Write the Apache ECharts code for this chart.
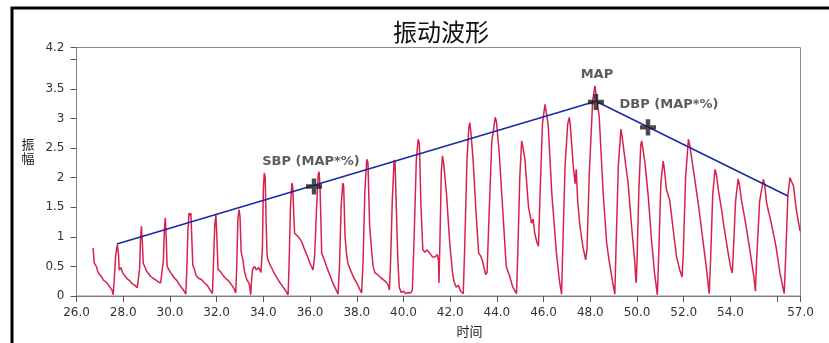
<!DOCTYPE html>
<html>
<head>
<meta charset="utf-8">
<script src="https://cdn.jsdelivr.net/npm/echarts@6/dist/echarts.min.js"></script>
<style>
html,body{margin:0;padding:0;background:#fff;}
#c{width:829px;height:343px;}
</style>
</head>
<body>
<div id="c"></div>
<script>
// ---- data ----
const titleText = '振动波形';
const xName = '时间';
const yName = '振幅';
const xTickValues = [26,28,30,32,34,36,38,40,42,44,46,48,50,52,54,56,57];
const xLabelValues = [26,28,30,32,34,36,38,40,42,44,46,48,50,52,54,57];
const yTickValues = [0,0.5,1,1.5,2,2.5,3,3.5,4,4.2];
const yLabelValues = [0,0.5,1,1.5,2,2.5,3,3.5,4.2];

// oscillometric waveform: time (x) and amplitude (y)
const waveT = [
26.71,26.76,26.85,26.92,27.00,27.08,27.15,27.22,27.30,27.38,27.45,27.52,27.57,27.62,27.68,27.75,
27.80,27.83,27.90,27.97,28.05,28.12,28.20,28.30,28.40,28.50,28.60,28.66,28.70,28.74,28.78,
28.82,28.86,28.92,29.00,29.08,29.18,29.28,29.40,29.50,29.60,29.68,29.72,29.76,29.80,
29.84,29.88,29.95,30.02,30.10,30.20,30.30,30.42,30.55,30.68,30.72,30.77,30.82,30.87,30.90,
30.94,30.98,31.05,31.12,31.22,31.35,31.48,31.60,31.72,31.82,31.86,31.92,31.97,
32.01,32.06,32.15,32.25,32.38,32.50,32.62,32.75,32.82,32.86,32.91,32.96,
33.00,33.05,33.12,33.20,33.28,33.40,33.46,33.50,33.54,33.62,33.70,33.80,33.90,33.96,34.00,34.04,
34.08,34.12,34.16,34.20,34.30,34.40,34.50,34.62,34.72,34.85,34.97,35.06,35.10,35.16,35.22,
35.26,35.30,35.34,35.42,35.50,35.64,35.75,35.88,36.00,36.13,36.20,36.28,36.35,36.39,
36.43,36.50,36.62,36.75,36.88,37.00,37.12,37.20,37.26,37.33,37.40,
37.44,37.50,37.56,37.62,37.75,37.88,38.00,38.12,38.21,38.27,38.35,38.43,
38.48,38.55,38.62,38.70,38.78,38.90,39.00,39.12,39.25,39.35,39.40,39.45,39.52,39.60,
39.64,39.70,39.76,39.82,39.90,40.00,40.10,40.20,40.30,40.38,40.45,40.55,40.63,
40.68,40.75,40.83,40.92,41.00,41.13,41.25,41.35,41.45,41.50,41.52,41.56,41.62,41.67,
41.72,41.84,41.98,42.10,42.15,42.25,42.35,42.45,42.56,42.62,42.72,42.80,42.84,
42.88,42.98,43.10,43.22,43.30,43.38,43.52,43.58,43.65,43.78,43.93,
43.98,44.10,44.25,44.40,44.55,44.68,44.84,44.90,44.98,45.06,
45.10,45.20,45.35,45.48,45.55,45.62,45.72,45.78,45.84,45.95,46.06,
46.12,46.20,46.35,46.55,46.68,46.77,46.82,46.92,47.03,47.10,
47.14,47.27,47.35,47.40,47.46,47.55,47.68,47.80,47.86,47.95,48.10,48.20,
48.25,48.38,48.55,48.70,48.80,48.95,49.05,49.10,49.20,49.31,
49.36,49.52,49.62,49.70,49.78,49.90,49.95,49.97,50.00,50.08,50.16,50.20,
50.25,50.34,50.48,50.62,50.75,50.87,50.93,51.02,51.12,
51.17,51.26,51.40,51.47,51.55,51.69,51.83,51.93,51.98,52.08,52.20,
52.26,52.41,52.62,52.82,52.98,53.09,53.15,53.24,53.34,
53.40,53.48,53.62,53.72,53.88,54.00,54.08,54.12,54.22,54.33,
54.38,54.47,54.65,54.83,55.00,55.07,55.12,55.25,55.41,
55.46,55.55,55.75,55.95,56.12,56.30,56.36,56.46,56.55,
56.60,56.70,56.82,56.98
];
const waveAmp = [
0.81,0.56,0.50,0.40,0.36,0.32,0.27,0.24,0.22,0.18,0.16,0.10,0.02,0.30,0.70,0.87,
0.70,0.44,0.48,0.40,0.35,0.38,0.28,0.25,0.20,0.18,0.14,0.15,0.45,0.95,1.18,
0.90,0.55,0.50,0.42,0.38,0.33,0.30,0.27,0.24,0.22,0.25,0.60,1.10,1.32,
1.00,0.50,0.52,0.40,0.42,0.30,0.26,0.18,0.12,0.03,0.40,1.10,1.40,1.36,1.40,
0.95,0.52,0.45,0.35,0.30,0.28,0.22,0.18,0.10,0.04,0.50,1.20,1.37,
1.00,0.45,0.42,0.36,0.30,0.26,0.20,0.12,0.05,0.50,1.30,1.46,
1.35,0.75,0.62,0.40,0.29,0.20,0.02,0.30,0.45,0.50,0.44,0.48,0.40,0.80,1.80,2.08,
2.00,1.23,0.70,0.61,0.52,0.44,0.36,0.28,0.22,0.15,0.08,0.02,0.50,1.50,1.91,
1.85,1.40,1.06,1.06,1.00,0.92,0.80,0.68,0.55,0.44,0.70,1.50,2.05,2.10,
1.80,0.72,0.60,0.45,0.32,0.20,0.10,0.03,0.50,1.50,1.91,
1.85,1.00,0.72,0.55,0.42,0.30,0.22,0.12,0.05,0.60,1.80,2.31,
2.25,1.20,0.84,0.50,0.39,0.36,0.32,0.28,0.24,0.18,0.10,0.60,1.60,2.30,
2.26,1.40,0.60,0.15,0.06,0.08,0.04,0.06,0.05,0.10,0.90,2.30,2.65,
2.58,1.52,0.78,0.74,0.78,0.72,0.66,0.66,0.70,0.60,0.22,0.90,2.10,2.37,
2.25,1.74,0.90,0.40,0.27,0.15,0.18,0.08,0.04,0.80,2.30,2.85,2.93,
2.80,2.31,1.46,0.72,0.68,0.60,0.36,0.40,1.20,2.60,3.02,
2.95,2.42,1.46,0.50,0.33,0.15,0.04,0.80,2.00,2.62,
2.55,2.31,1.52,1.23,1.30,1.06,0.90,0.84,1.60,2.90,3.24,
3.10,2.87,1.74,0.72,0.25,0.03,0.80,2.20,2.90,3.02,
2.90,2.20,1.90,2.14,1.60,1.20,0.84,0.61,0.80,2.00,3.30,3.55,
3.40,3.04,1.74,0.90,0.61,0.25,0.03,0.80,2.20,2.82,
2.70,2.20,1.91,1.50,1.12,0.60,0.27,0.22,0.60,1.80,2.55,2.62,
2.50,2.25,1.69,0.95,0.39,0.02,0.70,1.90,2.28,
2.15,1.80,1.62,1.63,1.12,0.67,0.44,0.32,0.70,2.00,2.65,
2.55,2.14,1.57,0.95,0.44,0.04,0.60,1.70,2.14,
2.05,1.80,1.46,1.18,0.78,0.50,0.39,0.70,1.60,1.98,
1.90,1.63,1.23,0.78,0.33,0.08,0.60,1.60,1.97,
1.90,1.57,1.23,0.84,0.39,0.04,0.60,1.70,2.00,
1.95,1.86,1.46,1.10
];

// envelope line
const envT = [27.73, 48.24, 56.46];
const envAmp = [0.88, 3.29, 1.69];

// marked points
const markNames = ['SBP (MAP*%)', 'MAP', 'DBP (MAP*%)'];
const markT = [36.17, 48.24, 50.47];
const markAmp = [1.85, 3.28, 2.85];

// ---- chart ----
const chart = echarts.init(document.getElementById('c'), null, {renderer: 'canvas'});
const waveData = waveT.map((t, i) => [t, waveAmp[i]]);
const envData = envT.map((t, i) => [t, envAmp[i]]);
const labelOffsets = [[-3, -25], [1, -27], [21, -23]];
const markData = markT.map((t, i) => ({
  value: [t, markAmp[i]],
  name: markNames[i],
  label: {offset: labelOffsets[i]}
}));
const plusPath = 'path://M3.6,0H6.4V3.6H10V6.4H6.4V10H3.6V6.4H0V3.6H3.6Z';

chart.setOption({
  animation: false,
  backgroundColor: '#ffffff',
  title: {
    text: titleText,
    left: 436, textAlign: 'center',
    top: 15,
    textStyle: {fontFamily: 'Noto Sans CJK SC', fontSize: 24, fontWeight: 'normal', color: '#111'}
  },
  graphic: [{
    type: 'polyline',
    shape: {points: [[12, 343], [12, 8], [829, 8]]},
    style: {stroke: '#000', lineWidth: 3, fill: null},
    silent: true
  }],
  grid: {
    left: 76.5, right: 28.5, top: 47.5, bottom: 47,
    show: true, borderColor: '#8a8a8a', borderWidth: 1, backgroundColor: 'transparent'
  },
  xAxis: {
    type: 'value', min: 26, max: 57, interval: 2,
    name: xName, nameLocation: 'middle', nameGap: 29,
    nameTextStyle: {fontFamily: 'Noto Sans CJK SC', fontSize: 13, color: '#222', padding: [0, 0, 0, 62]},
    axisLine: {show: true, lineStyle: {color: '#808080', width: 1}},
    axisTick: {show: true, length: 6, lineStyle: {color: '#555'}, customValues: xTickValues},
    axisLabel: {
      customValues: xLabelValues, margin: 11,
      fontFamily: 'DejaVu Sans', fontSize: 12, color: '#333',
      formatter: v => Number(v).toFixed(1)
    },
    splitLine: {show: false}
  },
  yAxis: {
    type: 'value', min: 0, max: 4.2, interval: 0.5,
    name: yName.split('').join('\n') + '\n \n \n ', nameLocation: 'middle', nameRotate: 0, nameGap: 42,
    nameTextStyle: {fontFamily: 'Noto Sans CJK SC', fontSize: 13, lineHeight: 14, color: '#222'},
    axisLine: {show: true, lineStyle: {color: '#808080', width: 1}},
    axisTick: {show: true, length: 6, lineStyle: {color: '#555'}, customValues: yTickValues},
    axisLabel: {
      customValues: yLabelValues, margin: 12,
      fontFamily: 'DejaVu Sans', fontSize: 12, color: '#333',
      formatter: v => String(v)
    },
    splitLine: {show: false}
  },
  series: [
    {
      type: 'line', data: waveData, showSymbol: false, symbol: 'none',
      lineStyle: {color: '#d8204e', width: 1.5}, z: 2
    },
    {
      type: 'line', data: envData, showSymbol: false, symbol: 'none',
      lineStyle: {color: '#1a2aa6', width: 1.6}, z: 3
    },
    {
      type: 'scatter', data: markData, symbol: plusPath, symbolSize: 16,
      itemStyle: {color: '#1e1e1e'}, z: 4,
      label: {
        show: true, position: 'inside',
        formatter: p => p.name,
        fontFamily: 'DejaVu Sans', fontSize: 13, fontWeight: 'bold', color: '#333'
      }
    }
  ]
});
</script>
</body>
</html>
